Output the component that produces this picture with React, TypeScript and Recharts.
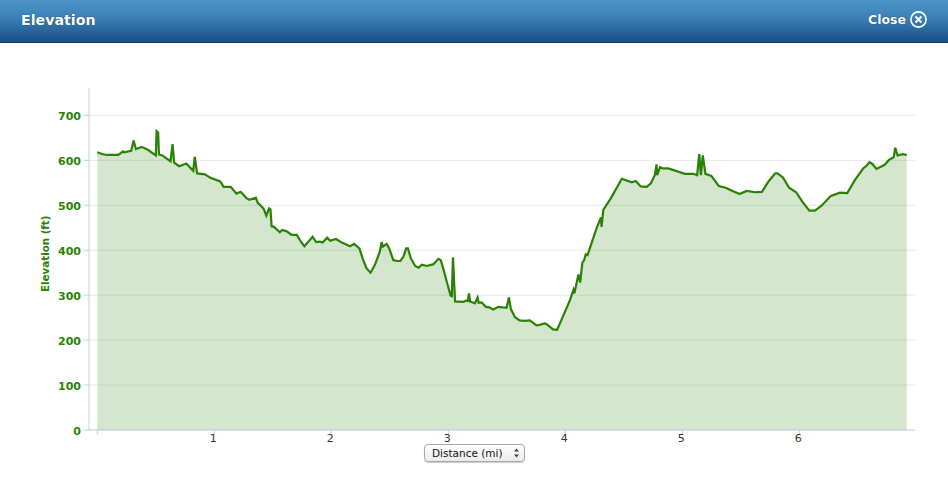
import React from "react";
import { AreaChart, Area, XAxis, YAxis, CartesianGrid } from "recharts";

const distances = [
  0.0, 0.04, 0.08, 0.18, 0.22, 0.23, 0.29, 0.31, 0.33, 0.38, 0.435, 0.5, 0.507, 0.52, 0.527, 0.555, 0.626, 0.643, 0.657, 0.7,
  0.76, 0.82, 0.833, 0.853, 0.92, 0.967, 1.05, 1.08, 1.14, 1.19, 1.225, 1.275, 1.3, 1.355, 1.37, 1.42, 1.445, 1.468, 1.48, 1.49,
  1.51, 1.56, 1.58, 1.62, 1.66, 1.705, 1.74, 1.77, 1.84, 1.87, 1.9, 1.925, 1.965, 1.99, 2.04, 2.09, 2.16, 2.195, 2.24, 2.273,
  2.3, 2.335, 2.372, 2.415, 2.43, 2.44, 2.473, 2.495, 2.53, 2.56, 2.59, 2.617, 2.64, 2.655, 2.68, 2.717, 2.745, 2.774, 2.817, 2.873,
  2.916, 2.936, 2.958, 2.987, 3.02, 3.03, 3.04, 3.058, 3.13, 3.148, 3.166, 3.177, 3.186, 3.228, 3.25, 3.26, 3.285, 3.32, 3.35, 3.385,
  3.427, 3.498, 3.518, 3.535, 3.57, 3.61, 3.654, 3.697, 3.754, 3.78, 3.825, 3.844, 3.895, 3.93, 3.967, 4.04, 4.07, 4.078, 4.112, 4.127,
  4.146, 4.16, 4.175, 4.19, 4.27, 4.305, 4.31, 4.325, 4.39, 4.483, 4.568, 4.602, 4.645, 4.695, 4.732, 4.765, 4.78, 4.785, 4.81, 4.832,
  4.88, 5.022, 5.095, 5.127, 5.145, 5.159, 5.175, 5.198, 5.25, 5.312, 5.37, 5.42, 5.49, 5.55, 5.62, 5.68, 5.737, 5.794, 5.814, 5.86,
  5.913, 5.973, 6.026, 6.086, 6.134, 6.19, 6.27, 6.347, 6.41, 6.475, 6.51, 6.546, 6.575, 6.6, 6.625, 6.66, 6.73, 6.767, 6.807, 6.82,
  6.84, 6.887, 6.918,
];

const elevations = [
  618, 614, 612, 612, 620, 618, 621, 644, 625, 630, 623, 611, 665, 662, 613, 611, 598, 636, 595, 587,
  593, 577, 608, 571, 569, 561, 553, 541, 541, 526, 530, 516, 512, 517, 506, 493, 477, 493, 491, 453,
  452, 440, 445, 442, 434, 434, 419, 409, 430, 418, 419, 417, 428, 421, 425, 417, 409, 414, 404, 378,
  360, 350, 367, 397, 418, 408, 414, 404, 378, 376, 376, 386, 404, 404, 382, 365, 361, 368, 365, 369,
  381, 378, 358, 330, 299, 298, 384, 286, 285, 288, 287, 304, 286, 282, 295, 283, 284, 274, 273, 268,
  274, 272, 295, 269, 251, 244, 243, 244, 233, 234, 237, 235, 224, 223, 245, 289, 312, 304, 346, 328,
  373, 377, 391, 389, 451, 473, 452, 490, 516, 559, 551, 554, 542, 541, 549, 567, 591, 567, 585, 582,
  582, 570, 570, 567, 614, 567, 611, 570, 565, 543, 539, 533, 525, 532, 529, 530, 553, 571, 571, 562,
  539, 529, 508, 488, 488, 499, 521, 528, 527, 556, 569, 582, 588, 596, 592, 581, 590, 601, 607, 628,
  611, 614, 612,
];

const xTicks = [0, 1, 2, 3, 4, 5, 6];
const yTicks = [0, 100, 200, 300, 400, 500, 600, 700];

const rows = distances.map((d, i) => ({ distance: d, elevation: elevations[i] }));

const UI_FONT = '"DejaVu Sans", sans-serif';
const GREEN = "#2a8205";
const AXIS = "#c0d0e0";

export default function App() {
  return (
    <div style={{ position: "absolute", left: 0, top: 0, width: 948, height: 480, background: "#fff", overflow: "hidden", fontFamily: UI_FONT }}>
      <div
        style={{
          position: "absolute", left: 0, top: 0, width: 948, height: 42,
          background: "linear-gradient(to bottom, #4b94c8 0%, #3a7fb5 45%, #1b5288 95%)",
          borderBottom: "1px solid #12365c",
        }}
      />
      <div style={{ position: "absolute", left: 21, top: 10, color: "#fff", fontSize: 14.2, fontWeight: 700, textShadow: "0 0 1px #123", lineHeight: "20px" }}>
        Elevation
      </div>
      <div style={{ position: "absolute", left: 868, top: 11, color: "#fff", fontSize: 12.5, fontWeight: 700, textShadow: "0 0 1px #123", lineHeight: "18px" }}>
        Close
      </div>
      <svg style={{ position: "absolute", left: 909, top: 10 }} width={19} height={19}>
        <circle cx={9.5} cy={9.5} r={7.6} fill="none" stroke="#fff" strokeWidth={1.6} />
        <path d="M6.5 6.5 L12.5 12.5 M12.5 6.5 L6.5 12.5" stroke="#fff" strokeWidth={2} />
      </svg>

      <div style={{ position: "absolute", left: 0, top: 0 }}>
        <AreaChart width={948} height={480} data={rows} margin={{ top: 88, right: 33, bottom: 0, left: 0 }}>
          <CartesianGrid horizontal vertical={false} stroke="#e8e8e8" strokeWidth={1} syncWithTicks />
          <XAxis
            dataKey="distance"
            type="number"
            domain={[-0.071, 6.989]}
            ticks={xTicks}
            tickFormatter={(v: number) => (v === 0 ? "" : String(v))}
            stroke={AXIS}
            tickLine={{ stroke: AXIS }}
            tickSize={5}
            tickMargin={-1}
            height={50}
            interval={0}
            tick={{ fill: "#333", fontSize: 11, fontFamily: UI_FONT, dx: -1 }}
          />
          <YAxis
            type="number"
            domain={[0, 761]}
            ticks={yTicks}
            width={89}
            stroke={AXIS}
            tickLine={{ stroke: AXIS }}
            tickSize={5}
            tickMargin={3}
            interval={0}
            tick={{ fill: GREEN, fontSize: 11, fontWeight: 700, fontFamily: UI_FONT, dy: 1 }}
            label={{ value: "Elevation (ft)", angle: -90, position: "insideLeft", offset: 45, dy: 33, fill: GREEN, fontSize: 10.3, fontWeight: 700, fontFamily: UI_FONT }}
          />
          <Area
            dataKey="elevation"
            type="linear"
            stroke={GREEN}
            strokeWidth={2.2}
            fill={GREEN}
            fillOpacity={0.2}
            dot={false}
            activeDot={false}
            isAnimationActive={false}
          />
        </AreaChart>
      </div>

      <div
        style={{
          position: "absolute", left: 424, top: 444, width: 99, height: 16,
          border: "1px solid #a8a8a8", borderRadius: 4, background: "linear-gradient(to bottom, #fff, #ececec)",
          fontSize: 10.5, lineHeight: "16px", color: "#111", boxShadow: "0 1px 1px #ccc",
        }}
      >
        <span style={{ position: "absolute", left: 7, top: 0 }}>Distance (mi)</span>
        <svg style={{ position: "absolute", left: 88, top: 3 }} width={7} height={10}>
          <path d="M3.5 0.5 L6 3.5 L1 3.5 Z M3.5 9.5 L6 6.5 L1 6.5 Z" fill="#444" />
        </svg>
      </div>
    </div>
  );
}
